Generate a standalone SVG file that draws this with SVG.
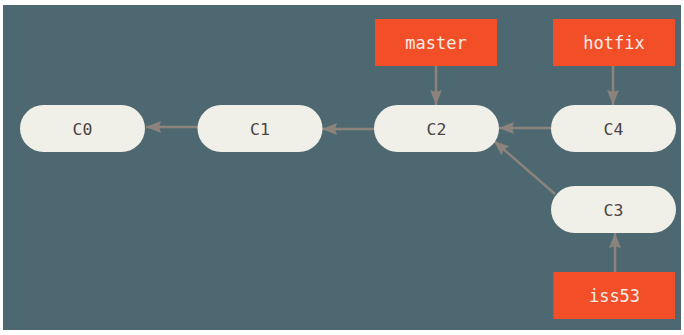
<svg xmlns="http://www.w3.org/2000/svg" width="684" height="335" viewBox="0 0 684 335">
<defs>
<style>
.commit rect{fill:#f0efe8;}
.commit text{fill:#4a4443;font-family:"DejaVu Sans Mono","Liberation Mono",monospace;font-size:16.5px;text-anchor:middle;}
.ref rect{fill:#f24f29;}
.ref text{fill:#f5ede6;font-family:"DejaVu Sans Mono","Liberation Mono",monospace;font-size:17px;text-anchor:middle;}
.conn line{stroke:#8c847c;stroke-width:2.5;fill:none;}
</style>
<marker id="ah" viewBox="0 0 15 12" refX="15" refY="6" markerWidth="15" markerHeight="12" markerUnits="userSpaceOnUse" orient="auto">
<path d="M0,0 L15,6 L0,12 L2,6 Z" fill="#8c847c"/>
</marker>
</defs>
<rect x="0" y="0" width="684" height="335" fill="#ffffff"/>
<rect x="3" y="5" width="678" height="325" fill="#4d6870"/>
<g class="conn">
<line x1="198" y1="127" x2="146" y2="127" marker-end="url(#ah)"/>
<line x1="374" y1="129" x2="322" y2="129" marker-end="url(#ah)"/>
<line x1="551" y1="128" x2="499" y2="128" marker-end="url(#ah)"/>
<line x1="555" y1="194" x2="494" y2="141" marker-end="url(#ah)"/>
<line x1="436" y1="66" x2="436" y2="105" marker-end="url(#ah)"/>
<line x1="613" y1="66" x2="613" y2="105" marker-end="url(#ah)"/>
<line x1="615" y1="272" x2="615" y2="233" marker-end="url(#ah)"/>
</g>
<g id="C0" class="commit"><rect x="20" y="105" width="125" height="47" rx="23.5"/><text x="82.5" y="134.5">C0</text></g>
<g id="C1" class="commit"><rect x="197.5" y="105" width="125" height="47" rx="23.5"/><text x="260" y="134.5">C1</text></g>
<g id="C2" class="commit"><rect x="374" y="105" width="125" height="47" rx="23.5"/><text x="436.5" y="134.5">C2</text></g>
<g id="C4" class="commit"><rect x="551" y="105" width="125" height="47" rx="23.5"/><text x="613.5" y="134.5">C4</text></g>
<g id="C3" class="commit"><rect x="551" y="186" width="125" height="47" rx="23.5"/><text x="613.5" y="215.5">C3</text></g>
<g id="master" class="ref"><rect x="375" y="19" width="122" height="47"/><text x="436" y="48.5">master</text></g>
<g id="hotfix" class="ref"><rect x="553" y="19" width="122" height="47"/><text x="614" y="48.5">hotfix</text></g>
<g id="iss53" class="ref"><rect x="553.5" y="272" width="121.5" height="47"/><text x="614.5" y="301.5">iss53</text></g>
</svg>
